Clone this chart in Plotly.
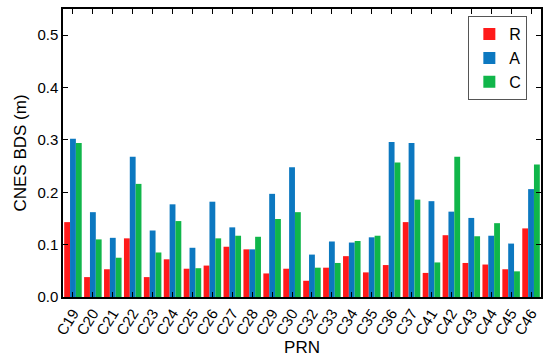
import plotly.graph_objects as go

# PRN categories and bias values (m)
prn = ['C19', 'C20', 'C21', 'C22', 'C23', 'C24', 'C25', 'C26', 'C27', 'C28', 'C29', 'C30',
       'C32', 'C33', 'C34', 'C35', 'C36', 'C37', 'C41', 'C42', 'C43', 'C44', 'C45', 'C46']
r_vals = [0.143, 0.038, 0.053, 0.112, 0.038, 0.072, 0.054, 0.060, 0.096, 0.091, 0.045, 0.054,
          0.031, 0.056, 0.078, 0.047, 0.061, 0.143, 0.046, 0.118, 0.065, 0.062, 0.053, 0.131]
a_vals = [0.302, 0.162, 0.113, 0.268, 0.127, 0.177, 0.094, 0.182, 0.133, 0.091, 0.197, 0.248,
          0.081, 0.106, 0.104, 0.114, 0.296, 0.294, 0.183, 0.163, 0.151, 0.117, 0.102, 0.206]
c_vals = [0.294, 0.110, 0.075, 0.216, 0.085, 0.145, 0.055, 0.112, 0.117, 0.115, 0.149, 0.162,
          0.056, 0.065, 0.107, 0.117, 0.257, 0.186, 0.066, 0.268, 0.116, 0.141, 0.049, 0.253]

font = 'Liberation Sans, Arial, sans-serif'

fig = go.Figure()
fig.add_trace(go.Bar(x=prn, y=r_vals, name='R', marker=dict(color='#FF1A1A', line=dict(width=0))))
fig.add_trace(go.Bar(x=prn, y=a_vals, name='A', marker=dict(color='#0C78C0', line=dict(width=0))))
fig.add_trace(go.Bar(x=prn, y=c_vals, name='C', marker=dict(color='#10B64A', line=dict(width=0))))

fig.update_layout(
    width=550, height=360,
    margin=dict(l=63, r=9, t=9, b=63),
    barmode='group', bargap=0.12, bargroupgap=0,
    paper_bgcolor='white', plot_bgcolor='white',
    font=dict(family=font, size=14, color='black'),
    showlegend=True,
    legend=dict(x=0.848, y=0.975, xanchor='left', yanchor='top',
                bordercolor='#555', borderwidth=1, bgcolor='white',
                font=dict(size=16), itemwidth=30, tracegroupgap=0),
)
fig.update_xaxes(
    title=dict(text='PRN', font=dict(size=17), standoff=0),
    tickangle=-58, tickfont=dict(size=15), automargin=False,
    showline=True, linecolor='black', linewidth=1.5, mirror='ticks',
    ticks='inside', ticklen=5, tickcolor='black',
)
fig.update_yaxes(
    title=dict(text='CNES BDS (m)', font=dict(size=17), standoff=6),
    range=[0, 0.55], tickvals=[0, 0.1, 0.2, 0.3, 0.4, 0.5], tickformat='.1f',
    tickfont=dict(size=15), automargin=False,
    showline=True, linecolor='black', linewidth=1.5, mirror='ticks',
    ticks='inside', ticklen=5, tickcolor='black', showgrid=False, zeroline=False,
)

# drop the browser's default body margin so the figure sits at the page corner
fig.write_html("out.html", config={'displayModeBar': False},
               post_script="document.body.style.margin='0';")
